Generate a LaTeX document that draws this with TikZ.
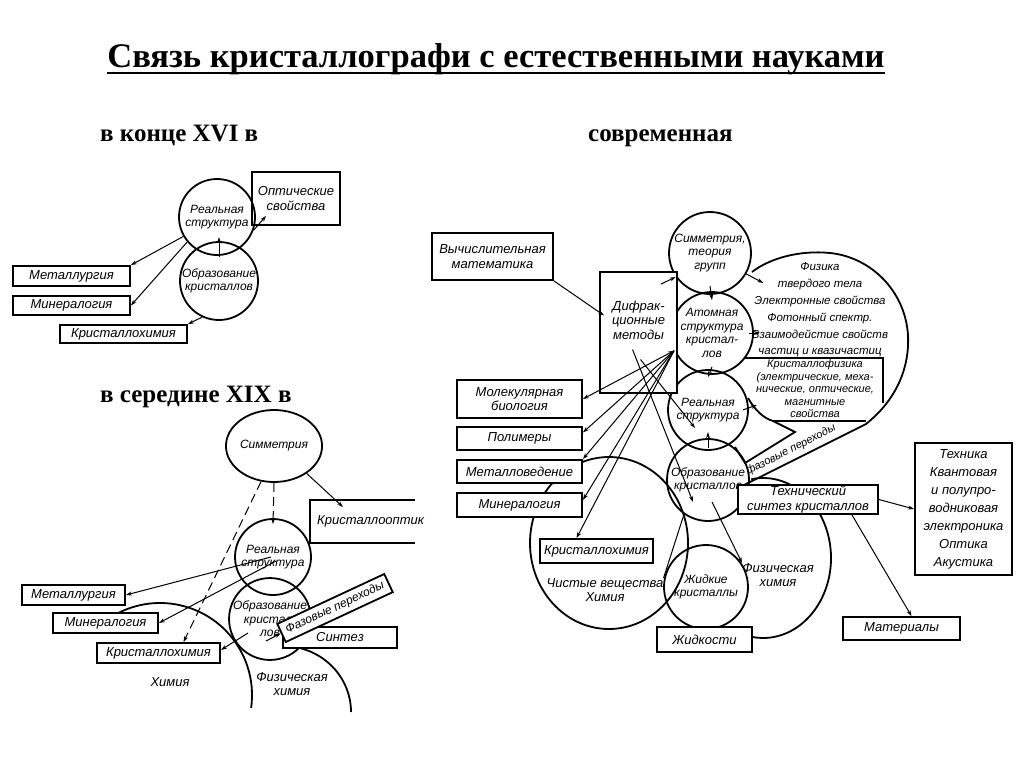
\documentclass[tikz,border=0pt]{standalone}
\usepackage{fontspec}
\setmainfont{Liberation Serif}
\newfontfamily\handfont{Liberation Sans}
\usetikzlibrary{shapes.geometric,arrows.meta}
\newcommand{\hnd}{\handfont\itshape\fontsize{13}{14.5}\selectfont}
\newcommand{\hndc}{\handfont\itshape\fontsize{12}{13.5}\selectfont}
\tikzset{
	circ/.style={circle,draw,line width=1.8pt,inner sep=0pt,minimum size=#1,align=center,font=\hndc},
	oval/.style 2 args={ellipse,draw,line width=1.8pt,inner sep=0pt,minimum width=#1,minimum height=#2,align=center,font=\hndc},
	box/.style 2 args={rectangle,draw,line width=1.8pt,inner sep=1pt,minimum width=#1,minimum height=#2,align=center,font=\hnd,fill=white},
	lbl/.style={align=center,font=\hnd,inner sep=0pt},
	rim/.style={line width=1.8pt},
	ln/.style={line width=1pt},
	arr/.style={-{Stealth[length=6pt,width=4pt]},line width=1pt},
	arrtwo/.style={{Stealth[length=6pt,width=4pt]}-{Stealth[length=6pt,width=4pt]},line width=1pt},
	dsh/.style={dash pattern=on 9pt off 5pt},
	head/.style={font=\bfseries\fontsize{25}{28}\selectfont,inner sep=0pt,anchor=base west}
}

\begin{document}
\begin{tikzpicture}[x=1pt,y=-1pt]
\useasboundingbox (0,0) rectangle (1024,768);

% title and headings
\node[font=\bfseries\fontsize{34.5}{40}\selectfont,inner sep=0pt,anchor=base] (ttl) at (496,67) {Связь кристаллографи с естественными науками};
\draw[line width=2.5pt] ([yshift=-6pt]ttl.base west) -- ([yshift=-6pt]ttl.base east);
\node[head] (hA) at (100,141) {в конце XVI в};
\node[head] (hC) at (588,141) {современная};
\node[head] (hB) at (100,402) {в середине XIX в};

% end of XVI century
\node[circ=76] (realA) at (217,217) {Реальная\\структура};
\node[circ=78] (formA) at (219,281) {Образование\\кристаллов};
\node[box={88}{53},fill=none] (optA) at (296,198.5) {Оптические\\свойства};
\node[box={117}{20}] (metA) at (71.5,276) {Металлургия};
\node[box={117}{19}] (minA) at (71.5,305.5) {Минералогия};
\node[box={127}{18}] (chemA) at (123.5,334) {Кристаллохимия};

\draw[arr] (realA.210) -- (metA.north east);
\draw[arr] (realA.220) -- (minA.east);
\draw[arr] (formA.245) -- (chemA.north east);
\draw[arr] ([yshift=-16pt]formA.north) -- ([yshift=4pt]formA.north);
\draw[arr] (realA.-20) -- ([shift={(15pt,10pt)}]optA.south west);

% middle of XIX century
\draw[rim] (160,695) ++(-117:92) arc[start angle=-117,end angle=8,radius=92];
\draw[rim] (283,712) ++(-85:68 and 66) arc[start angle=-85,end angle=0,x radius=68,y radius=66];
\node[lbl] (chemLB) at (170,682) {Химия};
\node[lbl] (phchLB) at (292,684) {Физическая\\химия};

\node[oval={82}{72}] (symB) at (274,446) {Симметрия};
\node[circ=76] (realB) at (273,557) {Реальная\\структура};
\node[circ=72] (formB) at (270,619) {Образование\\кристал-\\лов};
\node[lbl,anchor=west] (optB) at (317,521) {Кристаллооптик};
\draw[rim] (415,500) -| (310,543) -- (415,543);
\node[box={103}{20}] (metB) at (73.5,595) {Металлургия};
\node[box={105}{20}] (minB) at (105.5,623) {Минералогия};
\node[box={123}{20}] (chemB) at (158.5,653) {Кристаллохимия};
\node[box={114}{21}] (synB) at (340,637.5) {Синтез};
\node[box={118}{20},rotate=25,font=\handfont\itshape\fontsize{12}{13}\selectfont] (phaseB) at (335,608) {Фазовые переходы};

\draw[arr,dsh] (symB.south) -- ([yshift=-6pt]realB.north);
\draw[arr,dsh] (symB.250) -- ([xshift=25pt]chemB.north);
\draw[arr] (symB.-40) -- ([shift={(26pt,14pt)}]optB.west);
\draw[arr] ([xshift=-2pt]realB.center) -- (metB.east);
\draw[arr] ([shift={(3pt,-4pt)}]realB.center) -- (minB.east);
\draw[arr] ([shift={(-22pt,-14pt)}]formB.center) -- ([yshift=3pt]chemB.east);
\draw[arr] ([shift={(-4pt,-22pt)}]formB.center) -- (phaseB.west);

% modern
\draw[rim] (609,543) ellipse[x radius=79,y radius=86];
\draw[rim] (763,558) ++(-100:68 and 80) arc[start angle=-100,end angle=120,x radius=68,y radius=80];
\draw[rim] (752,272) .. controls (770,258) and (800,250) .. (830,253)
	.. controls (870,257) and (905,290) .. (908,335)
	.. controls (910,375) and (890,405) .. (866,424) -- (740,487);
\draw[rim] (748,398) .. controls (755,410) and (763,418) .. (773,421) -- (795,432) -- (745,463) -- (735,447);
\draw[rim] (745,358) -- (883,358) -- (883,403);
\draw[rim] (773,421) -- (866,421);

\node[circ=82] (symC) at (710,253) {Симметрия,\\теория\\групп};
\node[circ=82] (atomC) at (712,333) {Атомная\\структура\\кристал-\\лов};
\node[circ=80] (realC) at (708,410) {Реальная\\структура};
\node[circ=82] (formC) at (708,480) {Образование\\кристаллов};
\node[circ=84] (liqC) at (706,587) {Жидкие\\кристаллы};

\node[box={121}{47}] (vycC) at (492.5,256.5) {Вычислительная\\математика};
\node[box={77}{121}] (difC) at (638.5,332.5) {};
\node[lbl] (difL) at (638.5,320) {Дифрак-\\ционные\\методы};
\node[box={125}{38}] (molC) at (519.5,399) {Молекулярная\\биология};
\node[box={125}{23}] (polC) at (519.5,438.5) {Полимеры};
\node[box={125}{23}] (metC) at (519.5,471.5) {Металловедение};
\node[box={125}{24}] (minC) at (519.5,505) {Минералогия};
\node[box={113}{24}] (chemC) at (596.5,551) {Кристаллохимия};
\node[box={95}{25}] (liqbC) at (704.5,639.5) {Жидкости};
\node[box={140}{27}] (techC) at (808,499.5) {Технический\\синтез кристаллов};
\node[box={97}{132},font=\handfont\itshape\fontsize{13}{18}\selectfont] (tech2C) at (963.5,509) {Техника\\Квантовая\\и полупро-\\водниковая\\электроника\\Оптика\\Акустика};
\node[box={117}{23}] (matC) at (901.5,628.5) {Материалы};

\node[lbl] (pureL) at (605,590) {Чистые вещества\\Химия};
\node[lbl] (phchL) at (778,575) {Физическая\\химия};
\node[lbl,font=\handfont\itshape\fontsize{11.5}{16.8}\selectfont] (fizL) at (820,310) {Физика\\твердого тела\\Электронные свойства\\Фотонный спектр.\\Взаимодейстие свойств\\частиц и квазичастиц};
\node[lbl,font=\handfont\itshape\fontsize{11}{12.5}\selectfont] (kfL) at (815,389) {Кристаллофизика\\(электрические, меха-\\нические, оптические,\\магнитные\\свойства};
\node[lbl,rotate=27,font=\handfont\itshape\fontsize{11}{13}\selectfont] (phaseL) at (791,450) {фазовые переходы};

\draw[arr] (vycC.south east) -- ([shift={(5pt,17pt)}]difC.west);
\draw[arr] ([shift={(-17pt,-13pt)}]difC.north east) -- (symC.215);
\draw[arr] ([yshift=9pt]symC.south) -- ([yshift=-9pt]atomC.north);
\draw[arr] ([yshift=8pt]atomC.south) -- ([yshift=-8pt]realC.north);
\draw[arr] ([yshift=-10pt]formC.north) -- ([yshift=6pt]formC.north);
\draw[arr] (symC.-30) -- ([shift={(17pt,-9pt)}]symC.-30);
\draw[arr] ([xshift=-5pt]atomC.east) -- ([xshift=6pt]atomC.east);
\draw[arr] ([xshift=-6pt]realC.east) -- ([shift={(8pt,5pt)}]realC.east);

\draw[arrtwo] (atomC.205) -- (molC.east);
\draw[arr] (atomC.205) -- ([yshift=6pt]polC.east);
\draw[arr] (atomC.205) -- (metC.north east);
\draw[arr] (atomC.205) -- ([yshift=5pt]minC.east);
\draw[arr] (atomC.205) -- ([xshift=-20pt]chemC.north);
\draw[arr] ([shift={(-6pt,-17pt)}]difC.center) -- ([shift={(-15pt,-22pt)}]formC.center);
\draw[arr] ([shift={(2pt,-27pt)}]difC.center) -- ([shift={(-13pt,-18pt)}]realC.center);
\draw[arr] ([shift={(4pt,-22pt)}]formC.center) -- (phchL.north west);
\draw[ln] (formC.235) -- (pureL.north east);

\draw[arr] (techC.east) -- (tech2C.west);
\draw[arr] ([xshift=-27pt]techC.south east) -- ([xshift=10pt]matC.north);
\end{tikzpicture}
\end{document}
